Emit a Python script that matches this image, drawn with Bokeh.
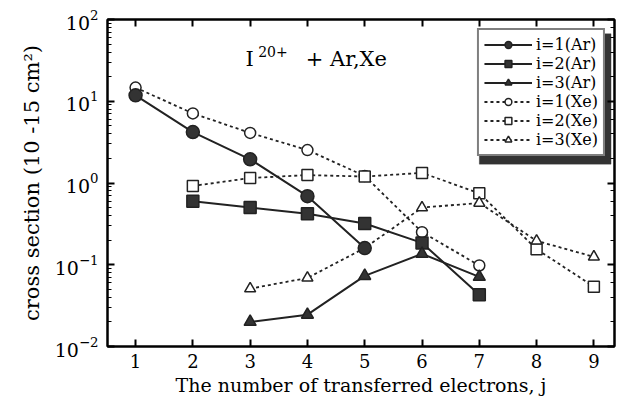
from bokeh.plotting import figure
from bokeh.models import (LogAxis, LinearAxis, Legend, LegendItem, Label, FixedTicker,
                          CustomJSTickFormatter, LogTicker, BoxAnnotation)
from bokeh.embed import file_html
from bokeh.resources import INLINE

# ---- data ----
j_ar1 = [1, 2, 3, 4, 5]
ar1 = [11.8, 4.2, 1.95, 0.69, 0.16]
j_ar2 = [2, 3, 4, 5, 6, 7]
ar2 = [0.6, 0.5, 0.42, 0.32, 0.185, 0.043]
j_ar3 = [3, 4, 5, 6, 7]
ar3 = [0.020, 0.0245, 0.073, 0.136, 0.071]
j_xe1 = [1, 2, 3, 4, 5, 6, 7]
xe1 = [14.7, 7.1, 4.1, 2.53, 1.22, 0.25, 0.098]
j_xe2 = [2, 3, 4, 5, 6, 7, 8, 9]
xe2 = [0.92, 1.15, 1.25, 1.2, 1.33, 0.75, 0.155, 0.054]
j_xe3 = [3, 4, 5, 6, 7, 8, 9]
xe3 = [0.051, 0.069, 0.16, 0.5, 0.57, 0.196, 0.125]
x_ticks = [1, 2, 3, 4, 5, 6, 7, 8, 9]

FONT = "DejaVu Serif"

p = figure(width=620, height=401, x_range=(0.51, 9.36), y_range=(0.01, 100),
           y_axis_type="log", output_backend="svg", toolbar_location=None,
           min_border_left=107, min_border_top=19, min_border_bottom=55, min_border_right=6)
p.grid.visible = False
p.outline_line_color = "black"
p.outline_line_width = 2
p.background_fill_color = "white"
p.border_fill_color = "white"

# axes
xa = p.xaxis[0]
xa.ticker = FixedTicker(ticks=x_ticks)
xa.axis_label = "The number of transferred electrons, j"
ya = p.yaxis[0]
ya.axis_label = "cross section (10 -15 cm\u00b2)"
for ax in (xa, ya):
    ax.axis_label_text_font = FONT
    ax.axis_label_text_font_style = "normal"
    ax.axis_label_text_color = "black"
    ax.major_label_text_font = FONT
    ax.major_label_text_color = "black"
    ax.axis_line_width = 2
    ax.major_tick_in = 7
    ax.major_tick_out = 0
    ax.minor_tick_in = 4
    ax.minor_tick_out = 0
    ax.major_tick_line_width = 2
xa.axis_label_text_font_size = "19px"
ya.axis_label_text_font_size = "21px"
xa.major_label_text_font_size = "18px"
xa.axis_label_standoff = 3
xa.major_label_standoff = 7
ya.major_label_text_font_size = "19px"
ya.major_label_standoff = 9
ya.axis_label_standoff = 8

top = LinearAxis(ticker=FixedTicker(ticks=x_ticks), major_tick_in=7, major_tick_out=0,
                 axis_line_width=2, major_tick_line_width=2,
                 formatter=CustomJSTickFormatter(code="return ''"),
                 major_label_text_font_size="0px", major_label_standoff=0)
right = LogAxis(ticker=LogTicker(), major_tick_in=7, major_tick_out=0, minor_tick_in=4,
                minor_tick_out=0, axis_line_width=2, major_tick_line_width=2,
                formatter=CustomJSTickFormatter(code="return ''"),
                major_label_text_font_size="0px", major_label_standoff=0)
p.add_layout(top, "above")
p.add_layout(right, "right")

# legend drop shadow (decoration)
shadow = BoxAnnotation(left=7.0, right=9.3, top=67, bottom=1.7, fill_color="#333333",
                       fill_alpha=1.0, line_color="#333333", level="underlay")
p.add_layout(shadow)

# series (Xe first, Ar drawn on top)
dash = "3 3"
series = [
    (j_xe1, xe1, "circle", "white", dash, 11, "i=1(Xe)"),
    (j_xe2, xe2, "square", "white", dash, 11, "i=2(Xe)"),
    (j_xe3, xe3, "triangle", "white", dash, 11, "i=3(Xe)"),
    (j_ar1, ar1, "circle", "#333333", "solid", 13, "i=1(Ar)"),
    (j_ar2, ar2, "square", "#333333", "solid", 12, "i=2(Ar)"),
    (j_ar3, ar3, "triangle", "#333333", "solid", 12, "i=3(Ar)"),
]
items = {}
for xs, ys, mk, fill, ld, sz, lab in series:
    r1 = p.line(xs, ys, line_color="#222222", line_width=2 if ld == "solid" else 1.8,
                line_dash=ld)
    r2 = p.scatter(xs, ys, marker=mk, size=sz, fill_color=fill, line_color="#222222",
                   line_width=1.5)
    items[lab] = [r1, r2]

order = ["i=1(Ar)", "i=2(Ar)", "i=3(Ar)", "i=1(Xe)", "i=2(Xe)", "i=3(Xe)"]

legend = Legend(items=[LegendItem(label=k, renderers=items[k]) for k in order],
                location="top_right", glyph_width=48, glyph_height=17, spacing=0,
                padding=5, label_standoff=4, label_text_font=FONT,
                label_text_font_size="16px", label_text_font_style="normal",
                label_text_color="black",
                border_line_color="black", border_line_width=2,
                background_fill_alpha=1.0, margin=9)
p.add_layout(legend, "center")

# title text
p.add_layout(Label(x=2.92, y=32.5, text="I", text_font=FONT, text_font_size="21px",
                   text_color="black", text_baseline="alphabetic"))
p.add_layout(Label(x=3.14, y=41, text="20+", text_font=FONT, text_font_size="14px",
                   text_color="black", text_baseline="alphabetic"))
p.add_layout(Label(x=3.97, y=32.5, text="+ Ar,Xe", text_font=FONT, text_font_size="21px",
                   text_color="black", text_baseline="alphabetic"))

open("out.html", "w").write(file_html(p, INLINE))
